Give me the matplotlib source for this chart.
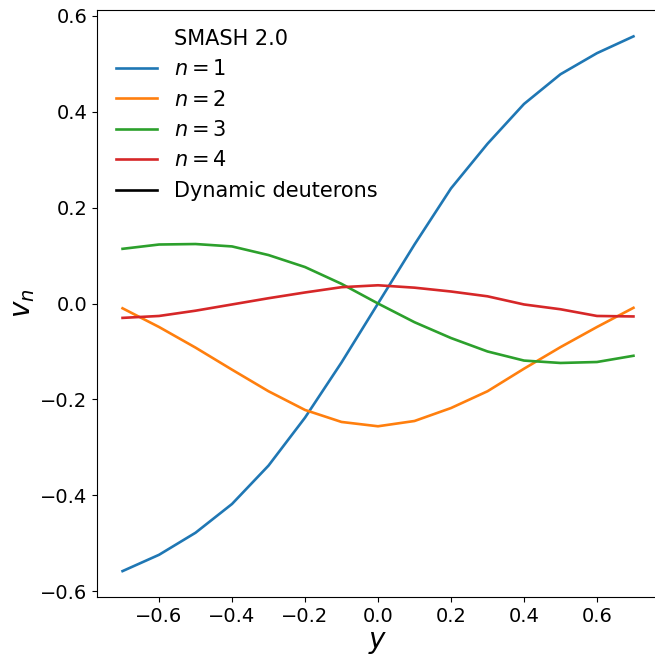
import matplotlib
matplotlib.use("Agg")
import matplotlib.pyplot as plt

# rapidity bins
y = [-0.7, -0.6, -0.5, -0.4, -0.3, -0.2, -0.1, 0.0, 0.1, 0.2, 0.3, 0.4, 0.5, 0.6, 0.7]

v1 = [-0.558, -0.524, -0.478, -0.418, -0.338, -0.238, -0.123, 0.0,
      0.123, 0.240, 0.333, 0.416, 0.478, 0.522, 0.557]
v2 = [-0.010, -0.049, -0.092, -0.138, -0.183, -0.222, -0.247, -0.256,
      -0.245, -0.218, -0.183, -0.136, -0.091, -0.049, -0.009]
v3 = [0.114, 0.123, 0.124, 0.119, 0.101, 0.076, 0.041, 0.0,
      -0.039, -0.072, -0.100, -0.119, -0.124, -0.122, -0.109]
v4 = [-0.030, -0.026, -0.015, -0.002, 0.011, 0.023, 0.034, 0.038,
      0.033, 0.025, 0.015, -0.002, -0.012, -0.026, -0.027]

series = [("$n = 1$", v1), ("$n = 2$", v2), ("$n = 3$", v3), ("$n = 4$", v4)]

fig = plt.figure(figsize=(6.55, 6.62), dpi=100)
ax = fig.add_axes([97 / 655, 65 / 662, 562 / 655, 587 / 662])

# header entry without handle
ax.plot([], [], color="none", label="SMASH 2.0")
for label, vals in series:
    ax.plot(y, vals, lw=1.9, label=label)
ax.plot([], [], color="black", lw=1.9, label="Dynamic deuterons")

ax.set_xticks([-0.6, -0.4, -0.2, 0.0, 0.2, 0.4, 0.6])
ax.set_yticks([-0.6, -0.4, -0.2, 0.0, 0.2, 0.4, 0.6])
ax.set_ylim(-0.612, 0.612)
ax.tick_params(labelsize=14)
ax.set_xlabel("$y$", fontsize=20, labelpad=2)
ax.set_ylabel("$v_n$", fontsize=20, labelpad=2)

ax.legend(loc="upper left", frameon=False, fontsize=15, labelspacing=0.5,
          borderaxespad=0.5)

fig.savefig("out.png", dpi=100)
